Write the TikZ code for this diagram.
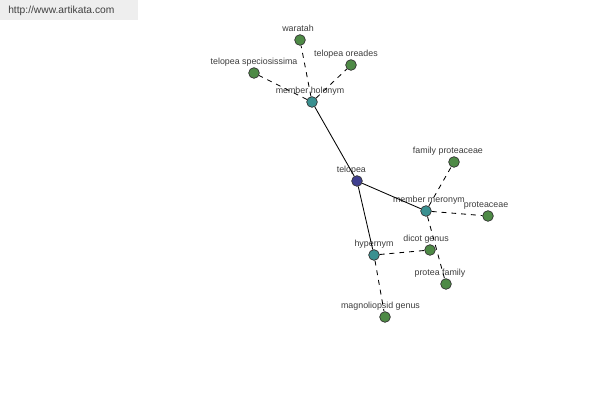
\documentclass[tikz,border=0pt]{standalone}
\usepackage{fontspec}
\setmainfont{Liberation Sans}
\usepackage{xcolor}
\usepackage{tikz}
\usetikzlibrary{positioning, calc}

\definecolor{leafgreen}{RGB}{78,138,70}
\definecolor{relteal}{RGB}{58,144,144}
\definecolor{rootblue}{RGB}{63,63,143}
\definecolor{lblgray}{RGB}{60,60,60}
\definecolor{hdrgray}{RGB}{238,238,238}

\begin{document}
\begin{tikzpicture}[
        x=0.025cm, y=-0.025cm,
        % Define styles for the vertices and their labels
        vertex/.style={draw=black!80, circle, line width=0.5pt, minimum size=7.6pt, inner sep=0pt},
        word/.style={vertex, fill=leafgreen},
        relation/.style={vertex, fill=relteal},
        root/.style={vertex, fill=rootblue},
        lbl/.style={font=\fontsize{6.3}{7}\selectfont, text=lblgray, inner sep=0.5pt, text height=0.75em, text depth=0.22em},
        every label/.style={lbl},
        label distance=-1.2pt,
        strong/.style={line width=0.6pt},
        weak/.style={line width=0.6pt, dash pattern=on 3.5pt off 3.5pt}
    ]
    \useasboundingbox (0,0) rectangle (600,400);

    % Site banner in the top left corner
    \fill[hdrgray] (0,0) rectangle (138,20);
    \node[font=\fontsize{7.3}{8}\selectfont, text=black!75, anchor=west, inner sep=0pt] (site) at (8,11) {http://www.artikata.com};

    % Central word
    \node[root, label={[xshift=-4pt]above:telopea}] (telopea) at (357,181) {};

    % Relation nodes
    \node[relation, label={[xshift=-1.4pt]above:member holonym}] (holonym) at (312,102) {};
    \node[relation, label={[xshift=2.1pt]above:member meronym}] (meronym) at (426,211) {};
    \node[relation, label={above:hypernym}] (hypernym) at (374,255) {};

    % Related words
    \node[word, label={[xshift=-1.4pt]above:waratah}] (waratah) at (300,40) {};
    \node[word, label={[xshift=-3.6pt]above:telopea oreades}] (oreades) at (351,65) {};
    \node[word, label={above:telopea speciosissima}] (speciosissima) at (254,73) {};
    \node[word, label={[xshift=-4.3pt]above:family proteaceae}] (family) at (454,162) {};
    \node[word, label={[xshift=-1.4pt]above:proteaceae}] (proteaceae) at (488,216) {};
    \node[word, label={[xshift=-4.3pt]above:protea family}] (proteafam) at (446,284) {};
    \node[word, label={[xshift=-2.8pt]above:dicot genus}] (dicot) at (430,250) {};
    \node[word, label={[xshift=-3.2pt]above:magnoliopsid genus}] (magnoliopsid) at (385,317) {};

    % Draw the connecting lines
    \draw[strong] (telopea) -- (holonym);
    \draw[strong] (telopea) -- (meronym);
    \draw[strong] (telopea) -- (hypernym);
    \draw[weak] (holonym) -- (waratah);
    \draw[weak] (holonym) -- (oreades);
    \draw[weak] (holonym) -- (speciosissima);
    \draw[weak] (meronym) -- (family);
    \draw[weak] (meronym) -- (proteaceae);
    \draw[weak] (meronym) -- (proteafam);
    \draw[weak] (hypernym) -- (dicot);
    \draw[weak] (hypernym) -- (magnoliopsid);

\end{tikzpicture}
\end{document}
